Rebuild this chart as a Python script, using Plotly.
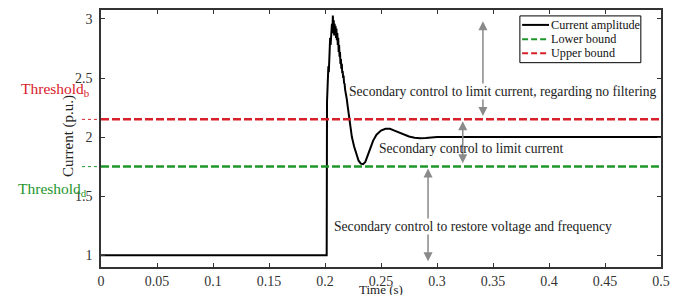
import plotly.graph_objects as go

# ---- data ----
time_s = [0, 0.2015, 0.2018, 0.2022, 0.2026, 0.203, 0.2034, 0.2038, 0.2042, 0.2046,
          0.205, 0.2054, 0.2058, 0.2062, 0.2066, 0.207, 0.2074, 0.2078, 0.2082, 0.2086,
          0.209, 0.2094, 0.2098, 0.2102, 0.2106, 0.211, 0.2114, 0.2118, 0.2122, 0.2126,
          0.213, 0.2134, 0.2138, 0.2142, 0.2146, 0.215, 0.2154, 0.2158, 0.2162, 0.2166,
          0.217, 0.2175, 0.218, 0.2185, 0.219, 0.2195, 0.22, 0.221, 0.222, 0.223,
          0.224, 0.226, 0.228, 0.23, 0.232, 0.234, 0.236, 0.238, 0.24, 0.243,
          0.246, 0.25, 0.254, 0.258, 0.262, 0.266, 0.27, 0.275, 0.28, 0.285,
          0.29, 0.295, 0.3, 0.5]
current_pu = [1.0, 1.0, 2.30, 2.52, 2.46, 2.60, 2.55, 2.72, 2.66, 2.84,
              2.78, 2.90, 2.82, 2.96, 2.88, 3.03, 2.92, 2.99, 2.86, 2.96,
              2.88, 2.94, 2.84, 2.92, 2.82, 2.88, 2.78, 2.84, 2.72, 2.78,
              2.68, 2.72, 2.62, 2.66, 2.58, 2.62, 2.54, 2.56, 2.50, 2.52,
              2.46, 2.45, 2.40, 2.38, 2.34, 2.32, 2.28, 2.20, 2.13, 2.06,
              2.00, 1.92, 1.85, 1.80, 1.775, 1.77, 1.79, 1.84, 1.90, 1.97,
              2.02, 2.055, 2.07, 2.07, 2.055, 2.04, 2.02, 2.005, 1.995, 1.99,
              1.992, 1.997, 2.0, 2.0]
assert len(time_s) == len(current_pu)

lower_bound = 1.75
upper_bound = 2.15
series_names = ["Current amplitude", "Lower bound", "Upper bound"]
x_range = [0, 0.5]
x_ticks = [0, 0.05, 0.1, 0.15, 0.2, 0.25, 0.3, 0.35, 0.4, 0.45, 0.5]
x_tick_text = ["0", "0.05", "0.1", "0.15", "0.2", "0.25", "0.3", "0.35", "0.4", "0.45", "0.5"]
y_ticks = [1, 1.5, 2, 2.5, 3]
y_tick_text = ["1", "1.5", "2", "2.5", "3"]

RED = "#d8202a"
GREEN = "#1e962c"
GRAY = "#8a8a8a"
FONT = "Liberation Serif, Times New Roman, serif"

fig = go.Figure()
fig.add_trace(go.Scatter(x=time_s, y=current_pu, mode="lines", name=series_names[0],
                         line=dict(color="black", width=2), showlegend=False))
fig.add_trace(go.Scatter(x=x_range, y=[lower_bound, lower_bound], mode="lines", name=series_names[1],
                         line=dict(color=GREEN, width=2.5, dash="8px,3px"), showlegend=False))
fig.add_trace(go.Scatter(x=x_range, y=[upper_bound, upper_bound], mode="lines", name=series_names[2],
                         line=dict(color=RED, width=2.5, dash="8px,3px"), showlegend=False))

# dotted extensions of the bounds to the left of the axis
for val, col in [(upper_bound, RED), (lower_bound, GREEN)]:
    fig.add_shape(type="line", xref="paper", yref="y", x0=-0.034, x1=0, y0=val, y1=val,
                  line=dict(color=col, width=1, dash="dot"), layer="below")

# double-headed arrows
arrows = [(0.341, 2.98, 2.165), (0.323, 2.135, 1.765), (0.292, 1.735, 0.935)]
for xa, y_top, y_bot in arrows:
    fig.add_annotation(x=xa, y=y_top, ax=xa, ay=y_bot, xref="x", yref="y", axref="x", ayref="y",
                       text="", showarrow=True, arrowhead=2, arrowside="end+start",
                       arrowsize=1.2, arrowwidth=1.5, arrowcolor=GRAY)

texts = [
    (0.3585, 2.39, "Secondary control to limit current, regarding no filtering", "white"),
    (0.330, 1.90, "Secondary control to limit current", "rgba(0,0,0,0)"),
    (0.3317, 1.244, "Secondary control to restore voltage and frequency", "white"),
]
for xt, yt, s, bg in texts:
    fig.add_annotation(x=xt, y=yt, xref="x", yref="y", text=s, showarrow=False,
                       xanchor="center", yanchor="middle",
                       font=dict(family=FONT, size=13.6, color="#222"), bgcolor=bg,
                       borderpad=0)

# threshold labels
fig.add_annotation(x=-0.146, y=2.40, xref="paper", yref="y", xanchor="left", yanchor="middle",
                   text="Threshold<sub>b</sub>", showarrow=False,
                   font=dict(family=FONT, size=15.5, color=RED))
fig.add_annotation(x=-0.152, y=1.555, xref="paper", yref="y", xanchor="left", yanchor="middle",
                   text="Threshold<sub>d</sub>", showarrow=False,
                   font=dict(family=FONT, size=15.5, color=GREEN))

# axis titles
fig.add_annotation(x=-0.057, y=0.51, xref="paper", yref="paper", text="Current (p.u.)",
                   xanchor="center", yanchor="middle",
                   textangle=-90, showarrow=False, font=dict(family=FONT, size=15, color="#222"))
fig.add_annotation(x=0.25, y=-0.05, xref="x", yref="paper", text="Time (s)",
                   xanchor="center", yanchor="top",
                   showarrow=False, font=dict(family=FONT, size=13, color="#222"))

# legend (drawn in paper coordinates)
fig.add_shape(type="rect", xref="paper", yref="paper", x0=0.748, x1=0.964, y0=0.795, y1=0.977,
              line=dict(color="black", width=1), fillcolor="white", layer="above")
leg_styles = [("black", "solid"), (GREEN, "6px,3px"), (RED, "6px,3px")]
leg_rows = [0.942, 0.886, 0.832]
for name, (col, dash), yr in zip(series_names, leg_styles, leg_rows):
    fig.add_shape(type="line", xref="paper", yref="paper", x0=0.752, x1=0.8, y0=yr, y1=yr,
                  line=dict(color=col, width=2, dash=dash), layer="above")
    fig.add_annotation(x=0.8, y=yr, xref="paper", yref="paper", xanchor="left", yanchor="middle",
                       text=name, showarrow=False,
                       font=dict(family=FONT, size=12.2, color="#111"))

axis_common = dict(showline=True, linecolor="#333", linewidth=1.5, mirror="ticks",
                   ticks="inside", ticklen=4, tickcolor="#333", showgrid=False, zeroline=False,
                   tickfont=dict(family=FONT, size=14, color="#333"))
fig.update_xaxes(range=x_range, tickvals=x_ticks, ticktext=x_tick_text, **axis_common)
fig.update_yaxes(range=[0.9, 3.076], tickvals=y_ticks, ticktext=y_tick_text, ticklabelstandoff=4,
                 **axis_common)

fig.update_layout(
    width=679, height=287,
    margin=dict(l=93, r=26, t=0, b=28),
    plot_bgcolor="white", paper_bgcolor="white",
    font=dict(family=FONT, size=12, color="#222"),
    showlegend=False,
)

fig.write_html("out.html")
